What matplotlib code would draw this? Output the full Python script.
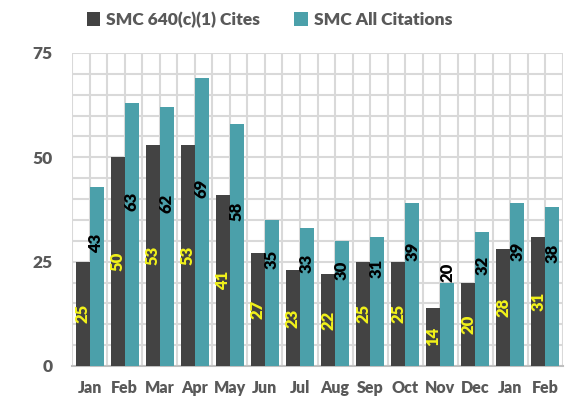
import numpy as np
import matplotlib
matplotlib.use("Agg")
from matplotlib import pyplot as plt
from matplotlib.ticker import MultipleLocator

plt.rcParams["font.family"] = ["Lato", "DejaVu Sans"]
plt.rcParams["font.weight"] = "bold"

months = ["Jan", "Feb", "Mar", "Apr", "May", "Jun", "Jul",
          "Aug", "Sep", "Oct", "Nov", "Dec", "Jan", "Feb"]
cites_640 = [25, 50, 53, 53, 41, 27, 23, 22, 25, 25, 14, 20, 28, 31]
cites_all = [43, 63, 62, 69, 58, 35, 33, 30, 31, 39, 20, 32, 39, 38]

DARK = "#434343"
TEAL = "#4BA0AA"
GREY_TXT = "#595959"
GRID = "#D9D9D9"

fig = plt.figure(figsize=(5.73, 4.0), dpi=100)
ax = fig.add_axes([72 / 573, 1 - 366 / 400, 491 / 573, 313 / 400])

x = np.arange(len(months))
w = 0.4
b1 = ax.bar(x - w / 2, cites_640, w, color=DARK, zorder=3, label="SMC 640(c)(1) Cites")
b2 = ax.bar(x + w / 2, cites_all, w, color=TEAL, zorder=3, label="SMC All Citations")

# value labels: yellow in the middle of the dark bars, black a bit above middle on teal
for xi, v in zip(x, cites_640):
    ax.text(xi - w / 2, v / 2, str(v), rotation=90, ha="center", va="center",
            color="#F2F21A", fontsize=12, fontweight="heavy", zorder=4)
nudge = {10: 4.5}  # Nov label sits above its short bar
for i, (xi, v) in enumerate(zip(x, cites_all)):
    ax.text(xi + w / 2, v / 2 + 8 + nudge.get(i, 0), str(v), rotation=90,
            ha="center", va="center", color="black", fontsize=12,
            fontweight="heavy", zorder=4)

ax.set_xlim(-0.5, len(months) - 0.5)
ax.set_ylim(0, 75)
ax.set_yticks([0, 25, 50, 75])
ax.yaxis.set_minor_locator(MultipleLocator(5))
ax.set_xticks(x)
ax.set_xticklabels(months)
ax.set_xticks(np.arange(len(months) + 1) - 0.5, minor=True)

ax.grid(True, which="both", axis="both", color=GRID, linewidth=1.5, zorder=0)
ax.tick_params(which="both", length=0)
ax.tick_params(axis="y", labelsize=12.5, labelcolor=GREY_TXT, pad=14)
ax.tick_params(axis="x", labelsize=11.5, labelcolor=GREY_TXT, pad=10)
for t in ax.get_xticklabels() + ax.get_yticklabels():
    t.set_fontweight("heavy")

for s in ["top", "right", "left"]:
    ax.spines[s].set_visible(False)
ax.spines["bottom"].set_color("#BFBFBF")
ax.spines["bottom"].set_linewidth(1.5)

leg = fig.legend(handles=[b1, b2], loc="upper center", bbox_to_anchor=(0.47, 1.01),
                 ncol=2, frameon=False, handlelength=0.8,
                 handleheight=0.8, handletextpad=0.3, columnspacing=2.0,
                 prop={"size": 12.5, "weight": "heavy"})
for t in leg.get_texts():
    t.set_color(GREY_TXT)

fig.savefig("out.png", dpi=100)
